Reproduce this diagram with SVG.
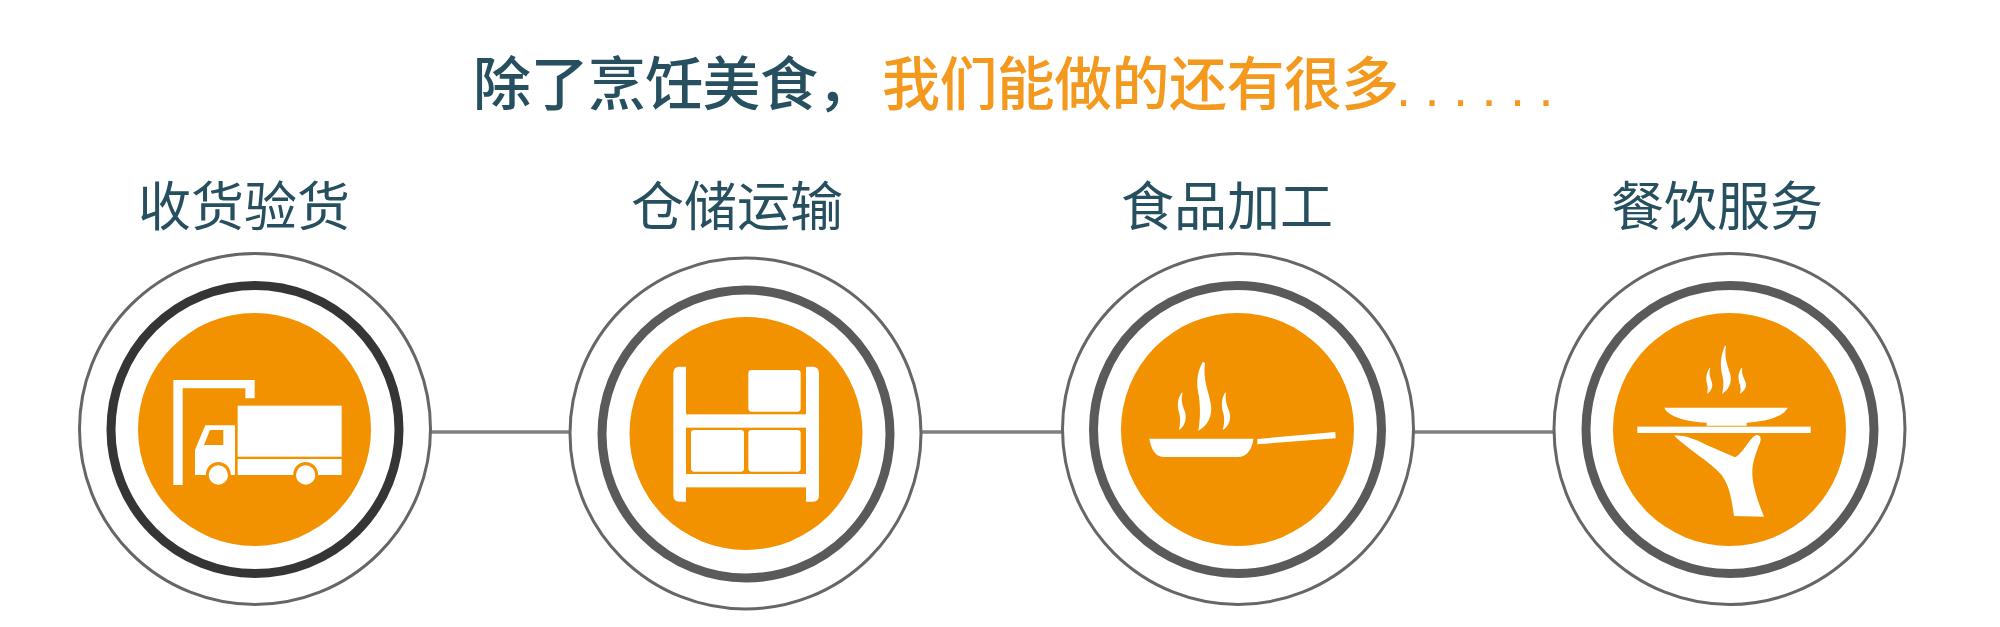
<svg xmlns="http://www.w3.org/2000/svg" width="2000" height="627" viewBox="0 0 2000 627">
<style>
.outer{fill:#fff;stroke:#666;stroke-width:3}
.ring{fill:none;stroke:#5a5a5a;stroke-width:9}
.ring.dark{stroke:#353535}
.disc{fill:#f39200}
.w{fill:#fff}
.o{fill:#f39200}
.conn{stroke:#808080;stroke-width:3.6;fill:none}
text{font-family:"Noto Sans CJK SC","Liberation Sans",sans-serif;font-weight:500}
.title{font-size:58px;letter-spacing:-.6px}
.label{font-size:53px;font-weight:400;fill:#264f5f}
.dk{fill:#264f5f}
.or{fill:#f39a1e}
</style>
<g id="connectors">
<line class="conn" x1="431" y1="432" x2="569" y2="432"/>
<line class="conn" x1="922" y1="432" x2="1062" y2="432"/>
<line class="conn" x1="1414" y1="432" x2="1553" y2="432"/>
</g>
<g id="title">
<text class="title dk" x="473" y="105">除了烹饪美食，</text>
<text class="title or" x="882" y="105">我们能做的还有很多</text>
<text class="or" x="1396" y="106" style="font-size:54px;letter-spacing:13.5px;font-family:'Liberation Sans',sans-serif;font-weight:400">......</text>
</g>
<g id="node-receiving">
<text class="label" x="138" y="226">收货验货</text>
<circle class="outer" cx="255" cy="429" r="175.5"/>
<circle class="ring dark" cx="255" cy="429.5" r="144"/>
<circle class="disc" cx="254.5" cy="429.5" r="116.5"/>
<g transform="translate(60 240) scale(.33333)">
<path class="w" d="M340 420H584V475H556V445H368V735H340Z"/>
<rect class="w" x="533" y="497" width="312" height="153"/>
<rect class="w" x="533" y="657" width="312" height="48"/>
<path class="w" d="M436 556H525V705H405V630Z"/>
<path class="o" d="M450 570H490V615H432Z"/>
<circle class="o" cx="475" cy="703" r="37"/><circle class="w" cx="475" cy="705" r="29"/>
<circle class="o" cx="737" cy="703" r="37"/><circle class="w" cx="737" cy="705" r="29"/>
</g>
</g>
<g id="node-storage">
<text class="label" x="631" y="226">仓储运输</text>
<circle class="outer" cx="745.5" cy="433.5" r="175.5"/>
<circle class="ring" cx="746" cy="434" r="144"/>
<circle class="disc" cx="746" cy="433.5" r="116.5"/>
<g transform="translate(560 240) scale(.33333)">
<path class="w" d="M378 380V785H358Q340 785 340 765V400Q340 380 358 380Z"/>
<path class="w" d="M738 380V785H759Q777 785 777 765V400Q777 380 759 380Z"/>
<rect class="w" x="378" y="523" width="360" height="40"/>
<rect class="w" x="378" y="702" width="360" height="40"/>
<rect class="w" x="565" y="390" width="157" height="125" rx="10"/>
<rect class="w" x="393" y="570" width="159" height="125" rx="10"/>
<rect class="w" x="565" y="570" width="157" height="125" rx="10"/>
</g>
</g>
<g id="node-processing">
<text class="label" x="1121" y="226">食品加工</text>
<circle class="outer" cx="1238" cy="429" r="175.5"/>
<circle class="ring" cx="1237.5" cy="429.5" r="144"/>
<circle class="disc" cx="1237.5" cy="429.5" r="116.5"/>
<g transform="translate(1050 240) scale(.33333)">
<path class="w" d="M298 596H610C608 620 595 650 565 651H340C315 650 303 625 298 596Z"/>
<path class="w" d="M622 597L856 576L857 595L622 613Z"/>
<path class="w" d="M458 366C440 400 438 430 447 470C452 510 450 540 445 572C470 560 490 530 482 490C475 450 458 420 465 368Z"/>
<path class="w" d="M395 458C380 480 382 500 388 520C392 540 390 555 387 570C402 560 412 540 405 515C397 495 392 480 398 458Z"/>
<path class="w" d="M525 458C512 480 515 500 520 520C525 540 522 555 518 570C535 560 545 540 538 515C530 495 525 480 528 458Z"/>
</g>
</g>
<g id="node-service">
<text class="label" x="1611" y="226">餐饮服务</text>
<circle class="outer" cx="1729.5" cy="429" r="175.5"/>
<circle class="ring" cx="1730" cy="429.5" r="144"/>
<circle class="disc" cx="1729.5" cy="429.5" r="116.5"/>
<g transform="translate(1540 240) scale(.33333)">
<rect class="w" x="292" y="560" width="520" height="19"/>
<path class="w" d="M373 503H743C730 530 680 545 620 548V557H500V548C440 545 385 530 373 503Z"/>
<path class="w" d="M403 587C430 585 460 595 500 615L585 652C610 640 630 590 650 585C665 585 665 600 655 620C640 660 632 690 640 730C650 780 665 810 672 830L582 828C575 780 570 740 545 705C510 665 440 625 403 587Z"/>
<path class="w" d="M555 317C540 350 540 380 548 410C552 430 550 445 546 462C565 450 578 430 570 400C562 375 552 350 558 317Z"/>
<path class="w" d="M508 385C496 405 498 420 502 435C504 445 503 455 501 462C514 452 520 440 515 425C510 410 506 400 511 385Z"/>
<path class="w" d="M603 385C592 405 595 420 600 435C603 445 602 455 599 462C614 452 622 440 616 425C610 410 604 400 607 385Z"/>
</g>
</g>
</svg>
